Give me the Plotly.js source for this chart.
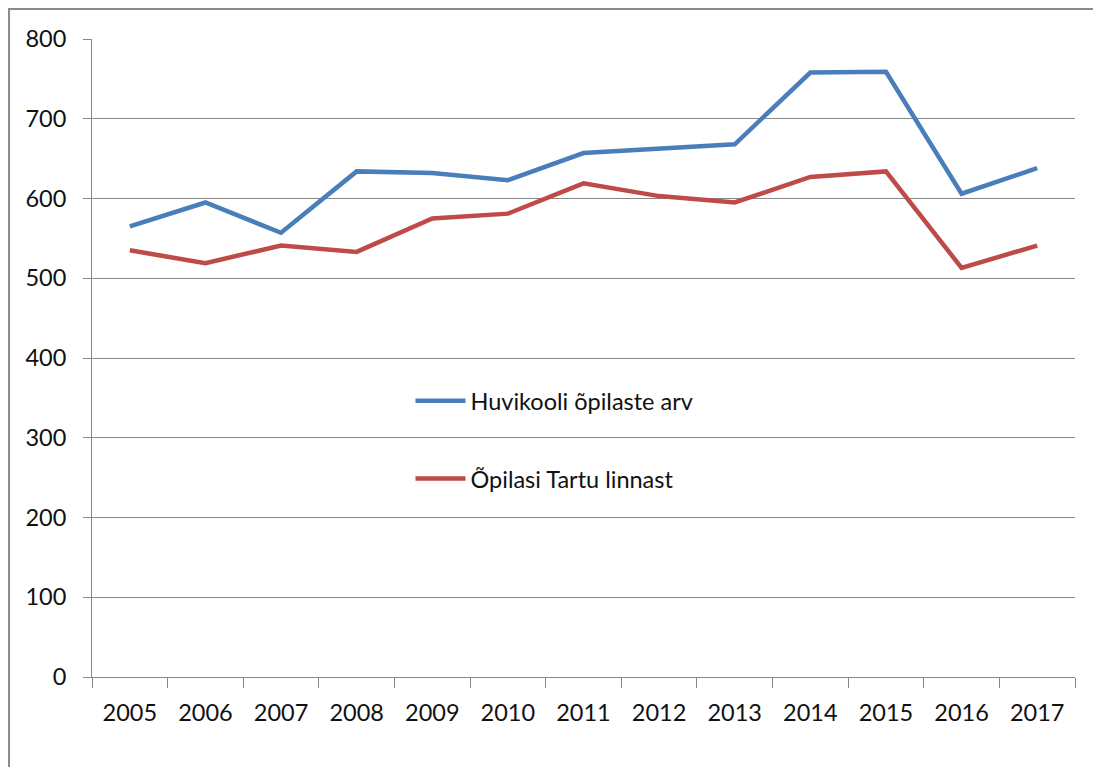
<!DOCTYPE html>
<html>
<head>
<meta charset="utf-8">
<script src="https://cdn.plot.ly/plotly-3.0.1.min.js"></script>
<style>html,body{margin:0;padding:0;background:#fff;}#chart{width:1093px;height:767px;}</style>
</head>
<body>
<div id="chart"></div>
<script>
const years = ["2005","2006","2007","2008","2009","2010","2011","2012","2013","2014","2015","2016","2017"];
const huvikooliOpilasteArv = [565,595,557,634,632,623,657,662,668,758,759,606,638];
const opilasiTartuLinnast = [535,519,541,533,575,581,619,603,595,627,634,513,541];
const seriesNames = ["Huvikooli õpilaste arv", "Õpilasi Tartu linnast"];
const yTicks = [0,100,200,300,400,500,600,700,800];

const font = "Lato, 'Open Sans', sans-serif";
const traces = [
  {x: years, y: huvikooliOpilasteArv, name: seriesNames[0], type: 'scatter', mode: 'lines',
   line: {color: '#4A7EBB', width: 4.5}, legendgroup: 'a'},
  {x: years, y: opilasiTartuLinnast, name: seriesNames[1], type: 'scatter', mode: 'lines',
   line: {color: '#BE4B48', width: 4.5}, legendgroup: 'b'}
];
const layout = {
  width: 1093, height: 767,
  margin: {l: 92, r: 18, t: 39, b: 90},
  paper_bgcolor: '#fff', plot_bgcolor: '#fff',
  font: {family: font, size: 23.5, color: '#111'},
  showlegend: true,
  legend: {x: 0.324, xanchor: 'left', y: 0.467, yanchor: 'top', bgcolor: 'rgba(0,0,0,0)',
           font: {family: font, size: 23.5, color: '#111'}, tracegroupgap: 44, itemwidth: 50},
  xaxis: {type: 'category', range: [-0.5, 12.5], tickson: 'boundaries', ticks: 'outside', ticklen: 10,
          tickcolor: '#868686', tickwidth: 1, showline: true, linecolor: '#868686', linewidth: 1,
          showgrid: false, zeroline: false, fixedrange: true, ticklabelstandoff: 15},
  yaxis: {range: [0, 800], tickvals: yTicks, ticktext: yTicks.map(String), ticks: 'outside', ticklen: 8,
          tickcolor: '#868686', showline: true, linecolor: '#868686', linewidth: 1, ticklabelstandoff: 12,
          showgrid: true, gridcolor: '#868686', gridwidth: 1, zeroline: false, fixedrange: true},
  shapes: [{type: 'rect', xref: 'paper', yref: 'paper', x0: -0.0844, x1: 1.2, y0: -0.5, y1: 1.047,
            line: {color: '#8a8a8a', width: 2}, fillcolor: 'rgba(0,0,0,0)', layer: 'below'}]
};
Plotly.newPlot('chart', traces, layout, {displayModeBar: false, staticPlot: true});
</script>
</body>
</html>
